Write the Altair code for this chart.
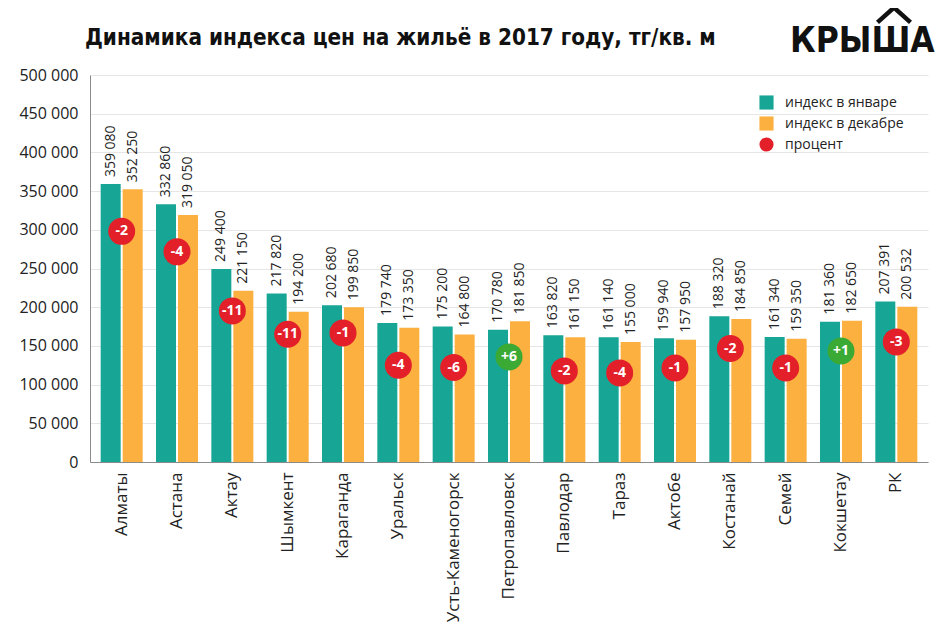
import altair as alt
import pandas as pd

cities = ["Алматы", "Астана", "Актау", "Шымкент", "Караганда", "Уральск",
          "Усть-Каменогорск", "Петропавловск", "Павлодар", "Тараз", "Актобе",
          "Костанай", "Семей", "Кокшетау", "РК"]
jan = [359080, 332860, 249400, 217820, 202680, 179740, 175200, 170780,
       163820, 161140, 159940, 188320, 161340, 181360, 207391]
dec = [352250, 319050, 221150, 194200, 199850, 173350, 164800, 181850,
       161150, 155000, 157950, 184850, 159350, 182650, 200532]
pct = [-2, -4, -11, -11, -1, -4, -6, 6, -2, -4, -1, -2, -1, 1, -3]
# vertical position of the percent badge (in tg/sq.m)
badge_y = [298000, 271500, 195200, 165100, 166800, 125000, 122000, 135800,
           117700, 115100, 121500, 146600, 121500, 143500, 155200]
y_ticks = [0, 50000, 100000, 150000, 200000, 250000, 300000, 350000,
           400000, 450000, 500000]

series = ["индекс в январе", "индекс в декабре"]
legend_keys = ["индекс в январе", "индекс в декабре", "процент"]
colors = ["#17a596", "#fbb040", "#e3202a"]
green = "#3aaa35"
title_text = "Динамика индекса цен на жильё в 2017 году, тг/кв. м"
logo_text = "КРЫША"

rows = []
for c, j, d in zip(cities, jan, dec):
    rows.append({"city": c, "series": series[0], "value": j})
    rows.append({"city": c, "series": series[1], "value": d})
bars_df = pd.DataFrame(rows)

pct_df = pd.DataFrame({"city": cities, "pct": pct, "value": badge_y,
                       "key": ["процент"] * len(cities)})

FONT = "Open Sans"
COND = "DejaVu Sans Condensed"

color_scale = alt.Scale(domain=legend_keys, range=colors)
shape_scale = alt.Scale(domain=legend_keys, range=["square", "square", "circle"])
legend = alt.Legend(title=None, orient="none", legendX=669, legendY=20,
                    labelFontSize=14, labelFont=FONT, labelColor="#222",
                    symbolSize=200, rowPadding=6, labelOffset=11, padding=0,
                    symbolStrokeWidth=0)

x_axis = alt.Axis(title=None, labelAngle=270, labelAlign="right",
                  labelBaseline="middle", labelFontSize=17,
                  labelFont=FONT, labelColor="#222", labelPadding=10,
                  labelLimit=300, ticks=False, domainColor="#8a8a8a",
                  grid=False)
x_scale = alt.Scale(paddingInner=0.241, paddingOuter=0.193)
y_axis = alt.Axis(title=None, values=y_ticks,
                  labelExpr="replace(format(datum.value, ','), ',', ' ')",
                  labelFontSize=16, labelFont=FONT, labelColor="#222",
                  labelPadding=12, labelOverlap=False, ticks=False,
                  domainColor="#8a8a8a", gridColor="#e6e6e6")
y_scale = alt.Scale(domain=[0, 500000], nice=False)


def X():
    return alt.X("city:N", sort=cities, scale=x_scale, axis=x_axis)


def Y():
    return alt.Y("value:Q", scale=y_scale, axis=y_axis)


xoff = alt.XOffset("series:N", sort=series,
                   scale=alt.Scale(domain=series, paddingInner=0.0909))

base = alt.Chart(bars_df)

bars = base.mark_bar().encode(
    x=X(), y=Y(), xOffset=xoff,
    color=alt.Color("series:N", scale=color_scale, legend=legend),
)

bar_labels = base.transform_calculate(
    lbl="replace(format(datum.value, ','), ',', ' ')"
).mark_text(angle=270, align="left", baseline="middle", dx=7,
            fontSize=14, font=FONT, color="#222").encode(
    x=X(), y=Y(), xOffset=xoff, text="lbl:N")

pbase = alt.Chart(pct_df)
badges = pbase.mark_point(filled=True, size=729, opacity=1).encode(
    x=X(), y=Y(),
    color=alt.condition("datum.pct > 0", alt.value(green),
                        alt.Color("key:N", scale=color_scale, legend=legend)),
    shape=alt.Shape("key:N", scale=shape_scale, legend=legend),
)
badge_text = pbase.transform_calculate(
    t="(datum.pct > 0 ? '+' : '') + datum.pct"
).mark_text(color="white", fontSize=14, fontWeight="bold", font=FONT,
            baseline="middle", align="center").encode(
    x=X(), y=Y(), text="t:N")

title = alt.Chart(pd.DataFrame({"t": [title_text]})).mark_text(
    font=COND, fontWeight="bold", fontSize=22.3, align="left",
    baseline="alphabetic", color="#111"
).encode(x=alt.value(-5), y=alt.value(-30), text="t:N")

logo = alt.Chart(pd.DataFrame({"t": [logo_text]})).mark_text(
    font=COND, fontWeight="bold", fontSize=35,
    align="left", baseline="alphabetic", color="#111"
).encode(x=alt.value(700), y=alt.value(-23), text="t:N")

roof = alt.Chart(pd.DataFrame({"t": ["roof"]})).mark_point(
    shape="M-1,0.45L0,-0.45L1,0.45", filled=False, strokeWidth=4.5,
    size=1089, color="#111", opacity=1, strokeJoin="miter"
).encode(x=alt.value(804), y=alt.value(-60))

chart = alt.layer(bars, bar_labels, badges, badge_text, title, logo, roof).properties(
    width=838, height=387,
    autosize=alt.AutoSizeParams(type="none"),
    padding={"left": 82, "top": 67, "right": 14, "bottom": 170},
).configure_view(stroke=None)

chart.save("out.html", embed_options={"renderer": "svg", "actions": False})
